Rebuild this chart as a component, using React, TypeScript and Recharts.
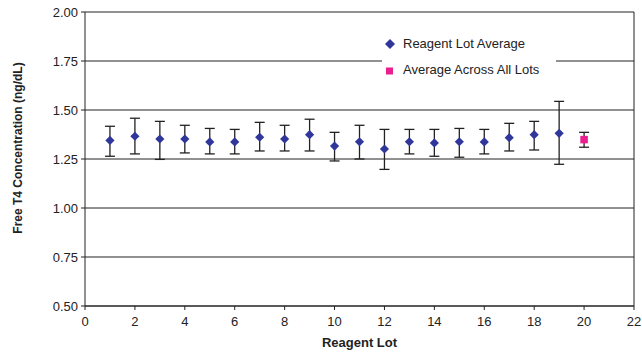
import React from 'react';
import { ScatterChart, Scatter, XAxis, YAxis, CartesianGrid, ErrorBar, ReferenceLine, Label } from 'recharts';

// ---- data ----
const lots = [1, 2, 3, 4, 5, 6, 7, 8, 9, 10, 11, 12, 13, 14, 15, 16, 17, 18, 19];
const lotAverage = [1.345, 1.366, 1.352, 1.352, 1.337, 1.337, 1.361, 1.352, 1.374, 1.316, 1.338, 1.301, 1.338, 1.332, 1.338, 1.337, 1.359, 1.374, 1.381];
const lotHigh = [1.417, 1.458, 1.442, 1.422, 1.406, 1.401, 1.437, 1.422, 1.453, 1.386, 1.422, 1.401, 1.401, 1.401, 1.406, 1.401, 1.432, 1.442, 1.544];
const lotLow = [1.264, 1.276, 1.248, 1.281, 1.276, 1.276, 1.291, 1.291, 1.291, 1.240, 1.250, 1.197, 1.276, 1.264, 1.259, 1.276, 1.291, 1.296, 1.223];

const allLotsX = [20];
const allLotsAverage = [1.349];
const allLotsHigh = [1.386];
const allLotsLow = [1.310];

const xTicks = [0, 2, 4, 6, 8, 10, 12, 14, 16, 18, 20, 22];
const yTicks = [0.5, 0.75, 1.0, 1.25, 1.5, 1.75, 2.0];

const seriesNames = ['Reagent Lot Average', 'Average Across All Lots'];
const xTitle = 'Reagent Lot';
const yTitle = 'Free T4 Concentration (ng/dL)';

// ---- derived tables ----
const lotData = lots.map((x, i) => ({
  x,
  y: lotAverage[i],
  err: [lotAverage[i] - lotLow[i], lotHigh[i] - lotAverage[i]],
}));
const allData = allLotsX.map((x, i) => ({
  x,
  y: allLotsAverage[i],
  err: [allLotsAverage[i] - allLotsLow[i], allLotsHigh[i] - allLotsAverage[i]],
}));

const BLUE = '#30369A';
const PINK = '#EA1E8E';
const INK = '#222222';
const FONT = '"Liberation Sans", Arial, Helvetica, sans-serif';

const Diamond = (props: any) => {
  const { cx, cy } = props;
  const r = 4.6;
  return <polygon points={`${cx},${cy - r} ${cx + r},${cy} ${cx},${cy + r} ${cx - r},${cy}`} fill={BLUE} />;
};

const Square = (props: any) => {
  const { cx, cy } = props;
  const s = 7.5;
  return <rect x={cx - s / 2} y={cy - s / 2} width={s} height={s} fill={PINK} />;
};

const YTitle = (props: any) => {
  const vb = props.viewBox || { x: 0, y: 12, width: 85, height: 294 };
  const cx = vb.x + 18;
  const cy = vb.y + vb.height / 2 - 11;
  return (
    <text x={cx} y={cy} transform={`rotate(-90 ${cx} ${cy})`} textAnchor="middle" dominantBaseline="central"
      fontFamily={FONT} fontSize={12} fontWeight="bold" fill={INK}>{yTitle}</text>
  );
};

const XTitle = (props: any) => {
  const vb = props.viewBox || { x: 85, y: 306, width: 549, height: 48 };
  return (
    <text x={vb.x + vb.width / 2} y={vb.y + 40.5} textAnchor="middle"
      fontFamily={FONT} fontSize={13} fontWeight="bold" fill={INK}>{xTitle}</text>
  );
};

const LegendBox = () => (
  <div style={{ position: 'absolute', left: 382, top: 30, background: '#fff', width: 174, height: 52, fontFamily: FONT, fontSize: 13, color: INK }}>
    <svg width={16} height={16} style={{ position: 'absolute', left: 0, top: 6 }}>
      <polygon points="8,3 13,8 8,13 3,8" fill={BLUE} />
    </svg>
    <div style={{ position: 'absolute', left: 21, top: 6, lineHeight: '16px', whiteSpace: 'nowrap' }}>{seriesNames[0]}</div>
    <svg width={16} height={16} style={{ position: 'absolute', left: 0, top: 33 }}>
      <rect x={4} y={4.5} width={7} height={7} fill={PINK} />
    </svg>
    <div style={{ position: 'absolute', left: 21, top: 32, lineHeight: '16px', whiteSpace: 'nowrap' }}>{seriesNames[1]}</div>
  </div>
);

export default function App() {
  return (
    <div style={{ position: 'absolute', left: 0, top: 0, width: 642, height: 354, background: '#fff' }}>
      <ScatterChart width={642} height={354} margin={{ top: 12, right: 8, bottom: 0, left: 0 }}>
        <CartesianGrid horizontal={true} vertical={false} stroke={INK} strokeWidth={1} />
        <XAxis type="number" dataKey="x" domain={[0, 22]} ticks={xTicks} interval={0} height={48}
          axisLine={{ stroke: INK }} tickLine={{ stroke: INK }} tickSize={4} tickMargin={7}
          tick={{ fill: INK, fontSize: 13, fontFamily: FONT }}>
          <Label content={XTitle} />
        </XAxis>
        <YAxis type="number" dataKey="y" domain={[0.5, 2]} ticks={yTicks} interval={0} width={85}
          allowDataOverflow tickFormatter={(v: number) => v.toFixed(2)}
          axisLine={{ stroke: INK }} tickLine={{ stroke: INK }} tickSize={4} tickMargin={3}
          tick={{ fill: INK, fontSize: 13, fontFamily: FONT }}>
          <Label content={YTitle} />
        </YAxis>
        <ReferenceLine x={22} stroke={INK} strokeWidth={1} />
        <Scatter name={seriesNames[0]} data={lotData} shape={Diamond} isAnimationActive={false}>
          <ErrorBar dataKey="err" direction="y" width={5} stroke={INK} strokeWidth={1.3} isAnimationActive={false} />
        </Scatter>
        <Scatter name={seriesNames[1]} data={allData} shape={Square} isAnimationActive={false}>
          <ErrorBar dataKey="err" direction="y" width={5} stroke={INK} strokeWidth={1.3} isAnimationActive={false} />
        </Scatter>
      </ScatterChart>
      <LegendBox />
    </div>
  );
}
